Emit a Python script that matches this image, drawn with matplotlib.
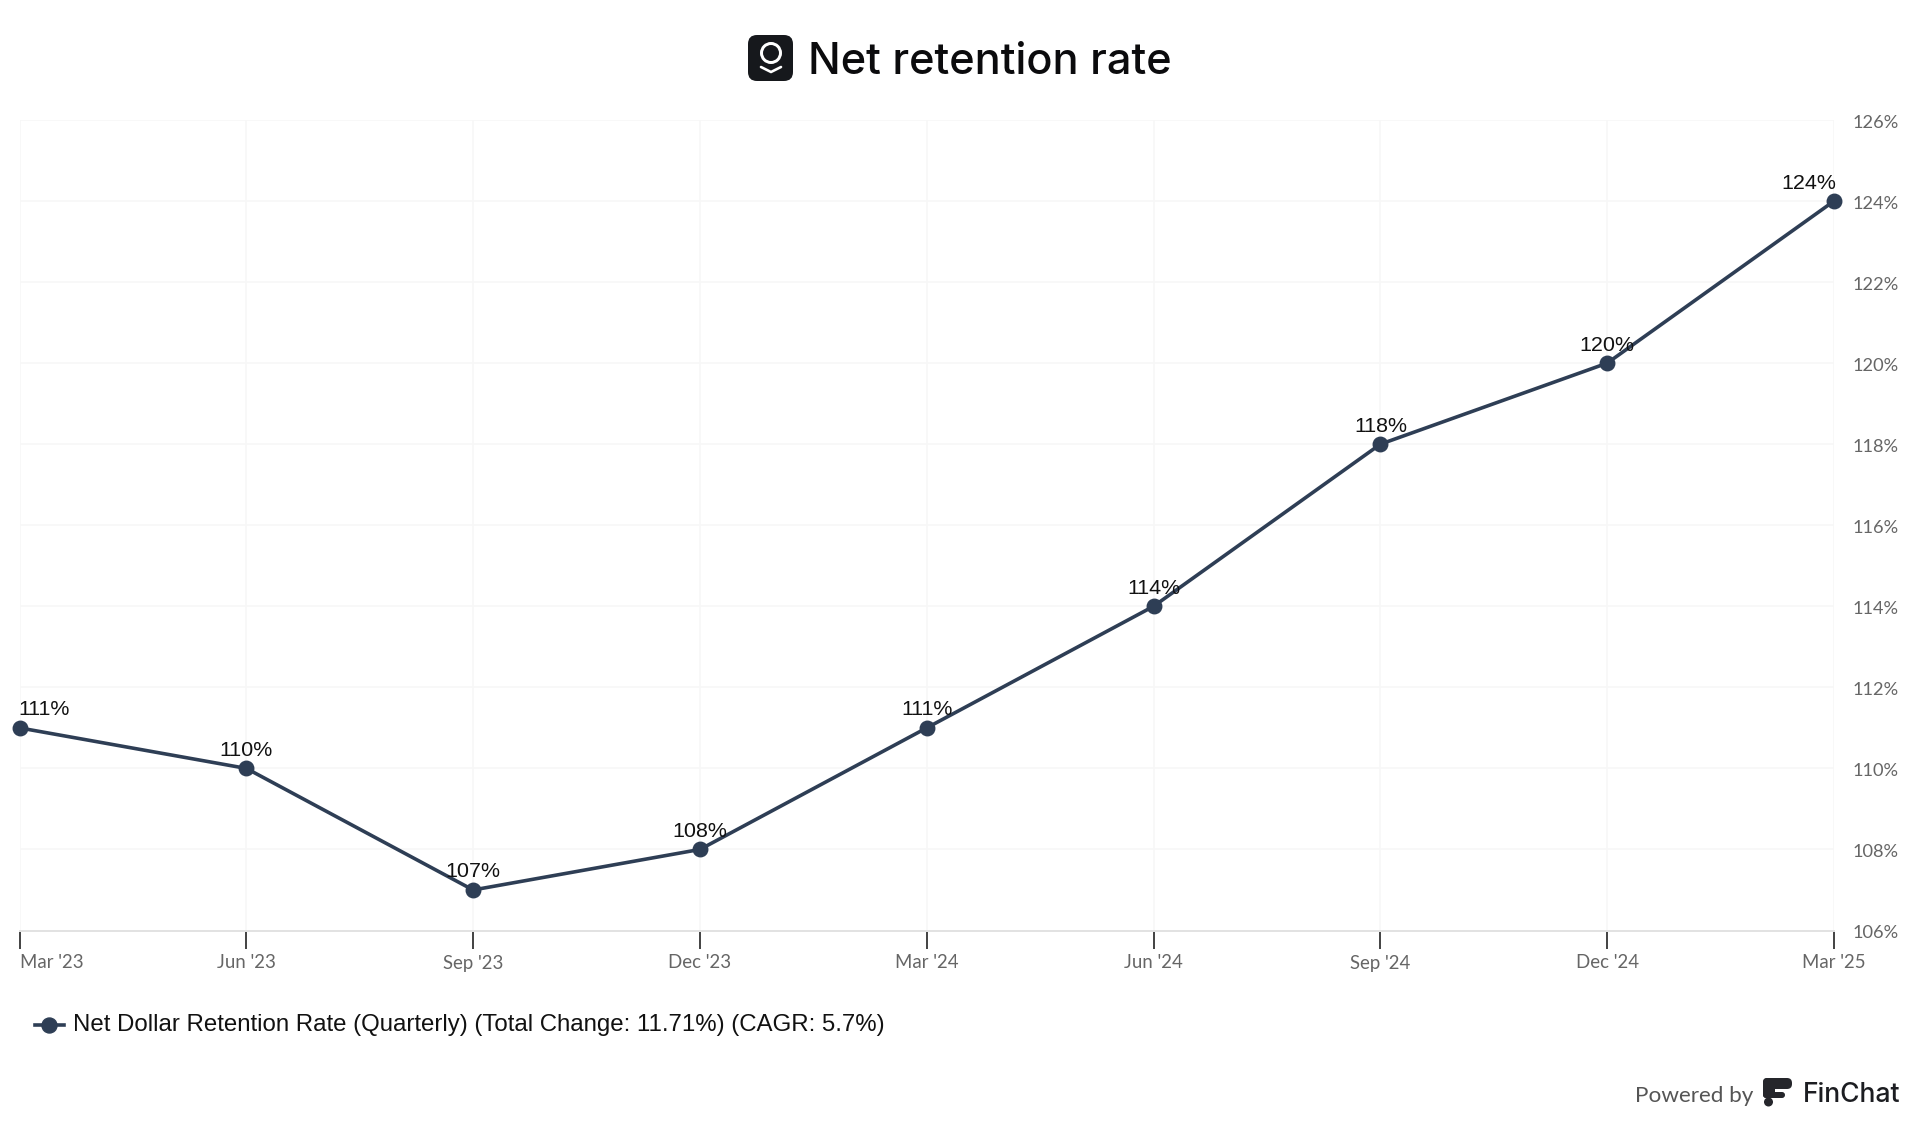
import matplotlib
matplotlib.use("Agg")
from matplotlib import pyplot as plt
from matplotlib.patches import Circle, FancyBboxPatch
from matplotlib.transforms import ScaledTranslation

quarters = ["Mar '23", "Jun '23", "Sep '23", "Dec '23", "Mar '24", "Jun '24", "Sep '24", "Dec '24", "Mar '25"]
retention = [111, 110, 107, 108, 111, 114, 118, 120, 124]
y_ticks = [106, 108, 110, 112, 114, 116, 118, 120, 122, 124, 126]
legend_label = "Net Dollar Retention Rate (Quarterly) (Total Change: 11.71%) (CAGR: 5.7%)"

NAVY = "#2e3e55"
W, H = 1920, 1125
DPI = 100


def px(n):
    return n * 72 / DPI


def rounded(ax, x0, y0, x1, y1, r, color):
    ax.add_patch(FancyBboxPatch((x0 + r, y0 + r), x1 - x0 - 2 * r, y1 - y0 - 2 * r,
                                boxstyle=f"round,pad={r},rounding_size={r}",
                                facecolor=color, edgecolor="none"))


def nudge(label, dx, dy):
    label.set_transform(label.get_transform() + ScaledTranslation(dx / DPI, dy / DPI, fig.dpi_scale_trans))


fig = plt.figure(figsize=(W / DPI, H / DPI), dpi=DPI, facecolor="white")
ax = fig.add_axes([19.5 / W, 1 - 930.5 / H, (1834 - 19.5) / W, (930.5 - 120) / H])
for spine in ["top", "right", "left"]:
    ax.spines[spine].set_visible(False)
ax.spines["bottom"].set_color("#e2e2e2")
ax.spines["bottom"].set_linewidth(px(2))

xs = list(range(len(quarters)))
ax.set_xlim(0, len(quarters) - 1)
ax.set_ylim(y_ticks[0], y_ticks[-1])
ax.grid(color="#f7f7f7", linewidth=px(1.5))
ax.set_axisbelow(True)

ax.plot(xs, retention, color=NAVY, linewidth=px(3.6), marker="o", markersize=px(14.5),
        clip_on=False, zorder=3)

for i, (x, v) in enumerate(zip(xs, retention)):
    ha = "left" if i == 0 else "right" if i == len(xs) - 1 else "center"
    offset = -1 if i == 0 else 2 if i == len(xs) - 1 else 0
    ax.annotate(f"{v}%", xy=(x, v), xytext=(px(offset), px(8.5)), textcoords="offset points",
                ha=ha, va="bottom", fontsize=px(21.5), family="Liberation Sans", color="#111111", zorder=4)

ax.set_xticks(xs)
ax.set_xticklabels(quarters, fontsize=px(18.7), family="Lato", color="#666666")
first_label = ax.get_xticklabels()[0]
first_label.set_ha("left")
nudge(first_label, -3.5, 0)
ax.tick_params(axis="x", length=px(18), width=px(1.8), color="#333333", pad=px(6))

ax.yaxis.tick_right()
ax.set_yticks(y_ticks)
ax.set_yticklabels([f"{v}%" for v in y_ticks], fontsize=px(18.3), family="Lato", color="#666666")
ax.tick_params(axis="y", length=0, pad=px(18.5))
for label in ax.get_yticklabels():
    nudge(label, 0, -1.5)

# Overlay in pixel units for the header, legend and footer
over = fig.add_axes([0, 0, 1, 1], facecolor="none")
over.set_xlim(0, W)
over.set_ylim(H, 0)
over.axis("off")

# Title and company badge
rounded(over, 748, 35, 793, 81, 9, "#16181c")
over.add_patch(Circle((771, 53), 9.5, facecolor="none", edgecolor="white", linewidth=px(3)))
over.plot([761, 771, 781], [67, 72, 67], color="white", linewidth=px(2.6), solid_capstyle="round")
over.text(808, 63, "Net retention rate", fontsize=px(43.3), family="Inter", fontweight=500,
          color="#0b0b0d", ha="left", va="center")

# Legend entry
over.plot([35, 64], [1024.5, 1024.5], color=NAVY, linewidth=px(3.6))
over.plot([49], [1024.5], color=NAVY, marker="o", markersize=px(15))
over.text(73, 1025, legend_label, fontsize=px(24), family="Liberation Sans", color="#111111",
          ha="left", va="center")

# Footer credit
over.text(1635, 1096, "Powered by", fontsize=px(22.5), family="Lato", color="#555555",
          ha="left", va="center")
rounded(over, 1763, 1078, 1792, 1089, 5, "#25262b")
rounded(over, 1763, 1078, 1775, 1098, 4, "#25262b")
rounded(over, 1763, 1092, 1785, 1098, 3, "#25262b")
over.add_patch(Circle((1768.5, 1102), 4.5, facecolor="#25262b", edgecolor="none"))
over.text(1803, 1095.5, "FinChat", fontsize=px(26.5), family="Inter", fontweight=500, color="#1c1d21",
          ha="left", va="center")

fig.savefig("out.png", dpi=DPI)
